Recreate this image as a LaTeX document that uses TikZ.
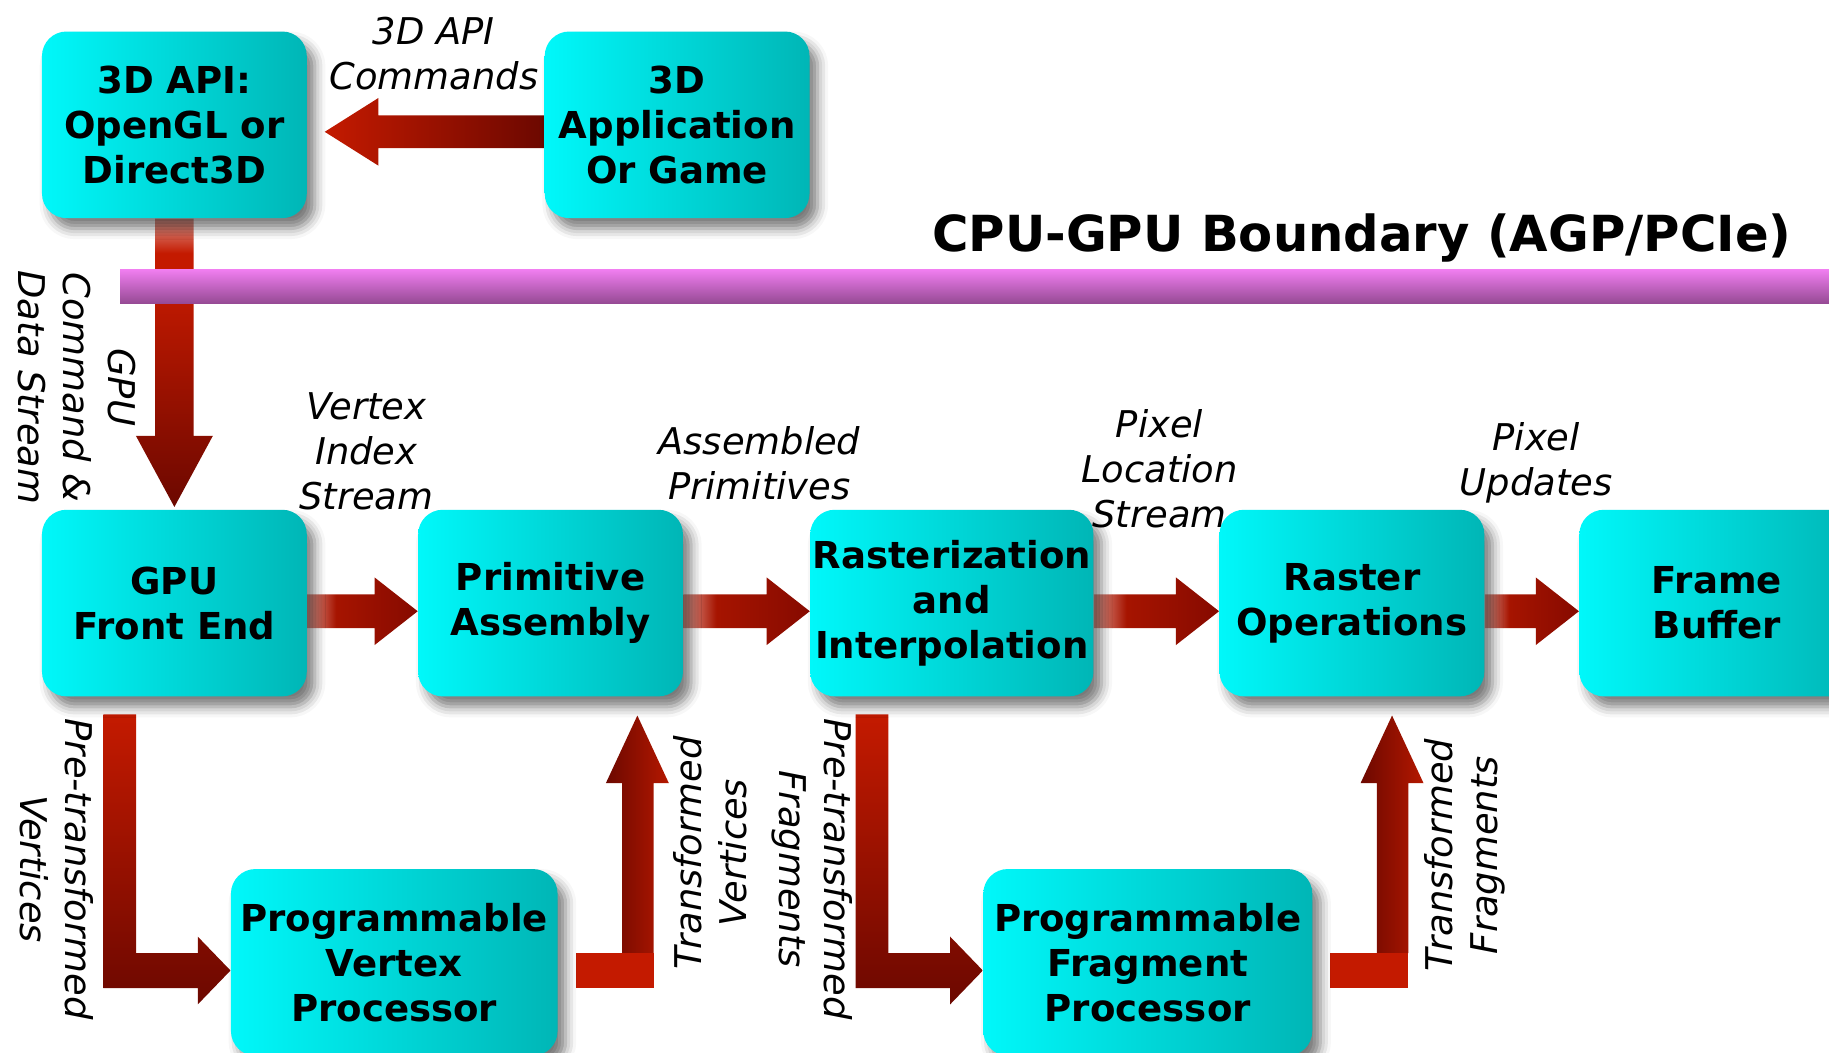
\documentclass[tikz,border=0pt]{standalone}
\usepackage{fontspec}
\setmainfont{DejaVu Sans}
\usetikzlibrary{calc,shadows.blur}

\definecolor{stageleft}{HTML}{00F8FA}
\definecolor{stageright}{HTML}{00B6B6}
\definecolor{flowred}{HTML}{C41A00}
\definecolor{flowmid}{HTML}{A61400}
\definecolor{flowdeep}{HTML}{860A00}
\definecolor{flowdark}{HTML}{6C0800}
\definecolor{flowpale}{HTML}{E09A90}
\definecolor{bustop}{HTML}{F07EF0}
\definecolor{busbottom}{HTML}{964A94}

\pgfdeclarehorizontalshading{rowflow}{100bp}{color(0bp)=(flowpale); color(25bp)=(flowpale); color(38bp)=(flowmid); color(75bp)=(flowdeep); color(100bp)=(flowdeep)}
\pgfdeclareverticalshading{cmdflow}{100bp}{color(0bp)=(flowdark); color(25bp)=(flowdark); color(64bp)=(flowred); color(69bp)=(flowred); color(75bp)=(flowpale); color(100bp)=(flowpale)}

\pgfdeclarelayer{arrows}
\pgfsetlayers{arrows,main}

\tikzset{
  stage/.style={rounded corners=10.5pt, left color=stageleft, right color=stageright,
    minimum width=113.5pt, minimum height=80pt, inner sep=1pt, align=center,
    font=\fontsize{15.9}{19.3}\selectfont\bfseries,
    blur shadow={shadow xshift=3.5pt, shadow yshift=-4.5pt, shadow blur radius=4.5pt, shadow opacity=52}},
  flowlabel/.style={align=center, inner sep=0pt, font=\fontsize{15.8}{19.3}\selectfont\itshape},
}

\begin{document}
\begin{tikzpicture}[x=0.5pt, y=-0.5pt]
  \useasboundingbox (0,0) rectangle (1568,902);

  % CPU side
  \node[stage] (api) at (149.5,107) {3D API:\\OpenGL or\\Direct3D};
  \node[stage] (app) at (580.5,107) {3D\\Application\\Or Game};
  \node[flowlabel] (cmds) at (372,46) {3D API\\Commands};

  % boundary
  \shade[top color=bustop, bottom color=busbottom] (103,231) rectangle (1575,260);
  \node[anchor=base, font=\fontsize{21.3}{25}\selectfont\bfseries] (boundary) at (1167.5,216) {CPU-GPU Boundary (AGP/PCIe)};

  % GPU pipeline
  \node[stage] (gfe) at (149.5,517) {GPU\\Front End};
  \node[stage] (pa) at (472,517) {Primitive\\Assembly};
  \node[stage, minimum width=121pt] (ri) at (816,517) {Rasterization\\and\\Interpolation};
  \node[stage] (rop) at (1159,517) {Raster\\Operations};
  \node[stage, minimum width=118pt] (fb) at (1472,517) {Frame\\Buffer};
  \node[stage, minimum width=140pt] (pvp) at (338,825) {Programmable\\Vertex\\Processor};
  \node[stage, minimum width=141pt] (pfp) at (984,825) {Programmable\\Fragment\\Processor};

  % stream labels
  \node[flowlabel, rotate=-90] (gcds) at (66,332) {GPU\\Command \&\\Data Stream};
  \node[flowlabel] (vis) at (314,387) {Vertex\\Index\\Stream};
  \node[flowlabel] (asm) at (651,397) {Assembled\\Primitives};
  \node[flowlabel] (pls) at (994,402) {Pixel\\Location\\Stream};
  \node[flowlabel] (pxu) at (1317,397) {Pixel\\Updates};
  \node[flowlabel, rotate=-90] (ptv) at (49,745) {Pre-transformed\\Vertices};
  \node[flowlabel, rotate=90] (tv) at (609,731) {Transformed\\Vertices};
  \node[flowlabel, rotate=-90] (ptf) at (696.5,745) {Pre-transformed\\Fragments};
  \node[flowlabel, rotate=90] (tf) at (1256,733) {Transformed\\Fragments};

  \begin{pgfonlayer}{arrows}
    % 3D API commands
    \shade[left color=flowred, right color=flowdark] ($(app.west)+(0,-8)$) -- ($(api.east)+(61,-8)$) -- ($(api.east)+(61,-23)$) -- ($(api.east)+(15,6)$) -- ($(api.east)+(61,35)$) -- ($(api.east)+(61,20)$) -- ($(app.west)+(0,20)$) -- cycle;
    % command stream into the front end
    \shade[shading=cmdflow] ($(api.south)+(-16.5,0)$) -- ($(gfe.north)+(-16.5,-63)$) -- ($(gfe.north)+(-33,-63)$) -- ($(gfe.north)+(0,-2)$) -- ($(gfe.north)+(33,-63)$) -- ($(gfe.north)+(16.5,-63)$) -- ($(api.south)+(16.5,0)$) -- cycle;
    % main row
    \foreach \a/\b in {gfe/pa, pa/ri, ri/rop, rop/fb}
      \shade[shading=rowflow] ($(\a.east)+(0,-7.5)$) -- ($(\b.west)+(-37,-7.5)$) -- ($(\b.west)+(-37,-22)$) -- ($(\b.west)+(0,7)$) -- ($(\b.west)+(-37,36)$) -- ($(\b.west)+(-37,21.5)$) -- ($(\a.east)+(0,21.5)$) -- cycle;
    % down to the programmable units
    \foreach \a/\b in {gfe/pvp, ri/pfp}
      \shade[top color=flowred, bottom color=flowdark] ($(\a.south -| \b.west)+(-109,15)$) -- ($(\a.south -| \b.west)+(-81,15)$) -- ($(\b.west)+(-81,-8)$) -- ($(\b.west)+(-28,-8)$) -- ($(\b.west)+(-28,-22)$) -- ($(\b.west)+(0,7)$) -- ($(\b.west)+(-28,36)$) -- ($(\b.west)+(-28,22)$) -- ($(\b.west)+(-109,22)$) -- cycle;
    % back up into the pipeline
    \foreach \a/\b in {pvp/pa, pfp/rop} {
      \shade[left color=flowdark, right color=flowred!92!black] ($(\a.east)+(55,-8)$) -- ($(\a.east |- \b.south)+(55,74)$) -- ($(\a.east |- \b.south)+(41,74)$) -- ($(\a.east |- \b.south)+(68,16)$) -- ($(\a.east |- \b.south)+(95,74)$) -- ($(\a.east |- \b.south)+(82,74)$) -- ($(\a.east)+(82,-8)$) -- cycle;
      \fill[flowred] ($(\a.east)+(15,-8)$) rectangle ($(\a.east)+(82,22)$);
    }
  \end{pgfonlayer}
\end{tikzpicture}
\end{document}
